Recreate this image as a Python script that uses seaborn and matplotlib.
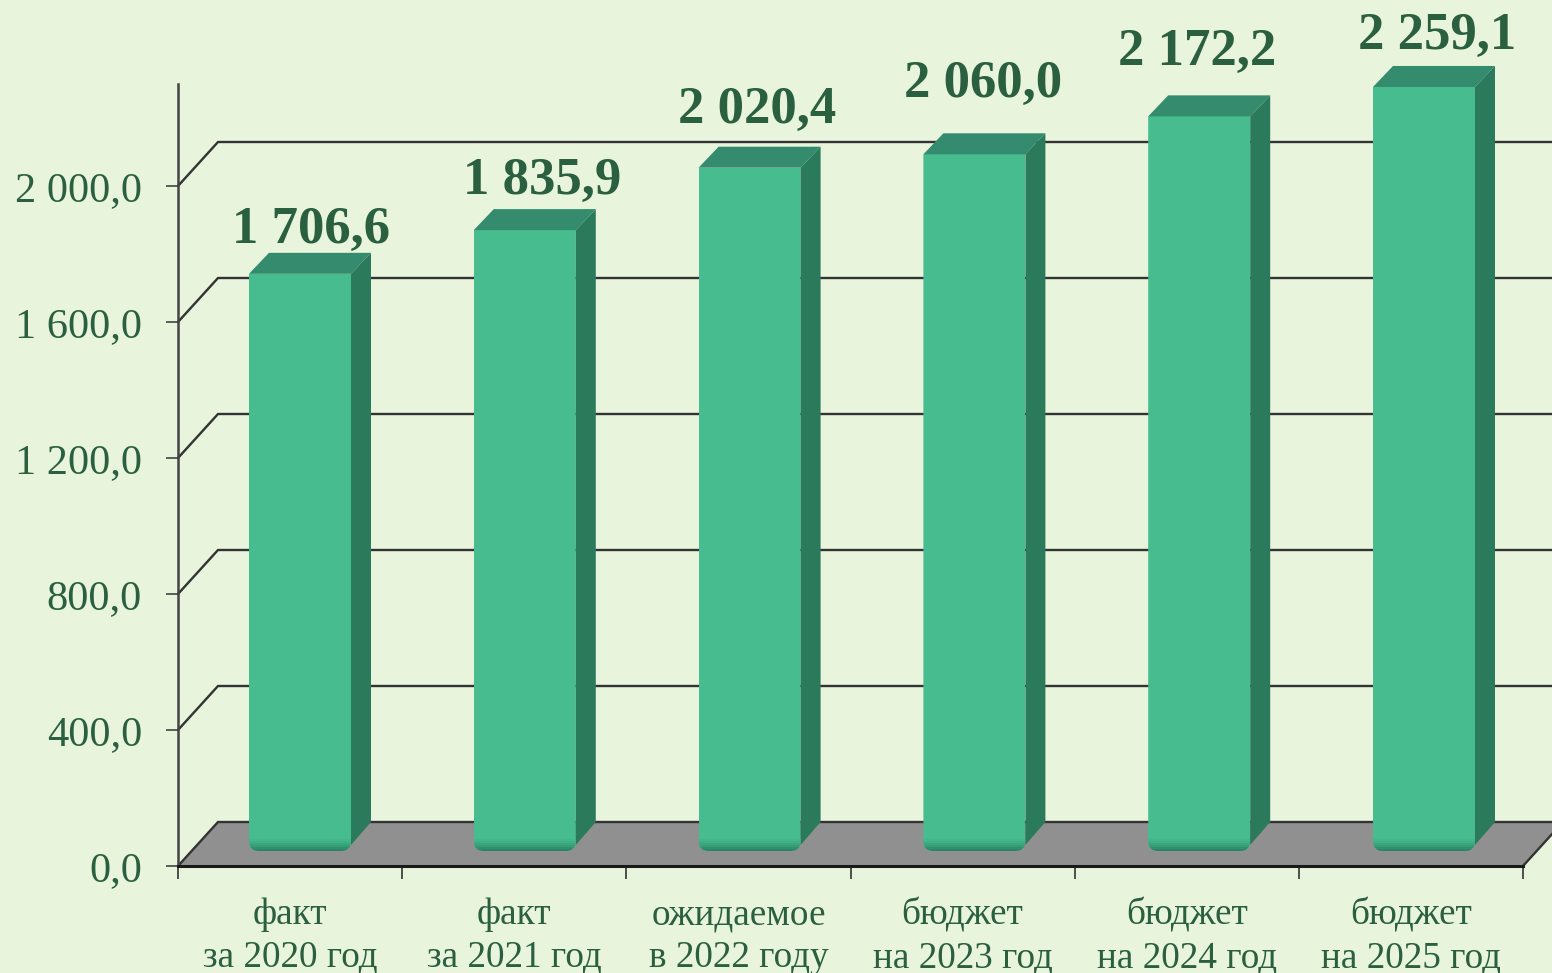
import numpy as np
import pandas as pd
import seaborn as sns
import matplotlib
matplotlib.use("Agg")
import matplotlib.pyplot as plt
from matplotlib.patches import FancyBboxPatch, Polygon, Rectangle

# chart data
categories = ["факт\nза 2020 год", "факт\nза 2021 год", "ожидаемое\nв 2022 году",
              "бюджет\nна 2023 год", "бюджет\nна 2024 год", "бюджет\nна 2025 год"]
values = [1706.6, 1835.9, 2020.4, 2060.0, 2172.2, 2259.1]
value_labels = ["1 706,6", "1 835,9", "2 020,4", "2 060,0", "2 172,2", "2 259,1"]
y_ticks = [0, 400, 800, 1200, 1600, 2000]
y_tick_labels = ["0,0", "400,0", "800,0", "1 200,0", "1 600,0", "2 000,0"]

# label nudges in points, the source chart places them by hand
label_nudge_x = [1, 5, -2, -1, -9, 2]
label_nudge_y = [-1, 3, 9.5, 18, 14, 4.5]

W, H = 1552, 973
BG = "#E8F4DC"
TEXT = "#2A5F40"
FRONT = "#47BC8F"
TOP = "#348B6D"
SIDE = "#2C7A5C"

sns.set_theme(style="white")
plt.rcParams["font.family"] = ["Liberation Serif", "DejaVu Serif"]

fig = plt.figure(figsize=(W / 100, H / 100), dpi=100, facecolor=BG)


def px_rect(x0, x1, y_bottom, y_top):
    return [x0 / W, 1 - y_bottom / H, (x1 - x0) / W, (y_bottom - y_top) / H]


# Axes with the walls, the floor and the ticks
ax = fig.add_axes(px_rect(178, 1523, 866, 84))
ax.set_facecolor("none")
ax.set_xlim(-0.5, 5.5)
ax.set_ylim(0, 2300)

px_x = 6 / 1345
px_y = 2300 / 782
wall_dx = 40 * px_x
wall_dy = 44 * px_y

ax.add_patch(Polygon([(-0.5, 0), (-0.5 + wall_dx, wall_dy), (5.5 + wall_dx, wall_dy), (5.5, 0)],
                     closed=True, facecolor="#909090", edgecolor="none", clip_on=False, zorder=1))
for tick in y_ticks:
    ax.plot([-0.5, -0.5 + wall_dx, 5.5 + wall_dx], [tick, tick + wall_dy, tick + wall_dy],
            color="#333333", lw=1.7, clip_on=False, zorder=2, solid_joinstyle="miter")
ax.plot([5.5, 5.5 + wall_dx], [0, wall_dy], color="#333333", lw=1.7, clip_on=False, zorder=2)

for side in ["top", "right"]:
    ax.spines[side].set_visible(False)
ax.spines["left"].set_color("#444444")
ax.spines["left"].set_linewidth(1.8)
ax.spines["bottom"].set_color("#1a1a1a")
ax.spines["bottom"].set_linewidth(2.2)
ax.spines["left"].set_zorder(3)
ax.spines["bottom"].set_zorder(3)

ax.set_yticks(y_ticks)
ax.set_yticklabels(y_tick_labels)
ax.tick_params(axis="y", which="major", left=True, length=9, width=1.2, color="#444444",
               labelsize=30.5, labelcolor=TEXT, pad=17)
ax.set_xticks(np.arange(6))
ax.set_xticklabels(categories, linespacing=1.3)
ax.set_xticks(np.arange(-0.5, 6), minor=True)
ax.tick_params(axis="x", which="major", bottom=False, labelsize=26.8, labelcolor=TEXT, pad=17)
ax.tick_params(axis="x", which="minor", bottom=True, length=9, width=1.2, color="#333333")

# Front plane of the bars sits a little in front of the wall
bar_ax = fig.add_axes(px_rect(187.6, 1536.4, 851, 73))
bar_ax.set_facecolor("none")
df = pd.DataFrame({"category": categories, "value": values})
sns.barplot(data=df, x="category", y="value", color=FRONT, saturation=1, width=0.4537,
            linewidth=0, edgecolor="none", ax=bar_ax, zorder=3)
bar_ax.set_xlim(-0.5, 5.5)
bar_ax.set_ylim(0, 778 / 0.3382)
bar_ax.axis("off")

bar_px_x = 6 / 1348.8
bar_px_y = 1 / 0.3382
depth_dx = 20 * bar_px_x
depth_dy = 21 * bar_px_y

for i, bar in enumerate(list(bar_ax.patches)):
    x0 = bar.get_x()
    x1 = x0 + bar.get_width()
    h = bar.get_height()
    bar_ax.add_patch(Polygon([(x0, h), (x0 + depth_dx, h + depth_dy), (x1 + depth_dx, h + depth_dy), (x1, h)],
                             closed=True, facecolor=TOP, edgecolor="none", zorder=3, clip_on=False))
    bar_ax.add_patch(Polygon([(x1, 6 * bar_px_y), (x1 + depth_dx, 29 * bar_px_y), (x1 + depth_dx, h + depth_dy), (x1, h)],
                             closed=True, facecolor=SIDE, edgecolor="none", zorder=3, clip_on=False))

    # rounded foot of the bar, darker towards the floor
    rounding = 10 * bar_px_x
    clip = FancyBboxPatch((x0, 0), x1 - x0, h + 300,
                          boxstyle=f"round,pad=0,rounding_size={rounding}",
                          mutation_aspect=bar_px_y / bar_px_x, transform=bar_ax.transData)
    bar.set_clip_path(clip)
    for step, color in enumerate(["#2B8464", "#30916E", "#359D77", "#3AA77F", "#3FB086", "#43B68B"]):
        band = Rectangle((x0, step * 2 * bar_px_y), x1 - x0, 2 * bar_px_y, facecolor=color,
                         edgecolor="none", zorder=3.5)
        bar_ax.add_patch(band)
        band.set_clip_path(clip)

    bar_ax.annotate(value_labels[i], xy=(x0 + (x1 - x0 + depth_dx) / 2, h + depth_dy),
                    xytext=(label_nudge_x[i], label_nudge_y[i]), textcoords="offset points",
                    ha="center", va="bottom", fontsize=38, fontweight="bold", color=TEXT,
                    annotation_clip=False, zorder=5)

fig.savefig("out.png", dpi=100, facecolor=BG)
